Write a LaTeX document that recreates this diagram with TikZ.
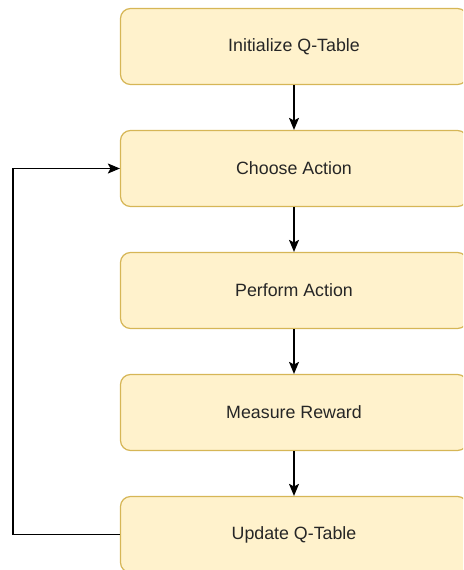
\documentclass[tikz,border=0pt]{standalone}
\usepackage{fontspec}
\setmainfont{Liberation Sans}
\usetikzlibrary{arrows.meta}
\definecolor{stepfill}{HTML}{FFF2CC}
\definecolor{stepline}{HTML}{D6B656}
\begin{document}
\begin{tikzpicture}[x=1pt,y=-1pt,
  stepbox/.style={draw=stepline, fill=stepfill, line width=1.2pt,
    rounded corners=10pt, minimum width=347pt, minimum height=76pt,
    inner sep=0pt, text=black!85, font=\fontsize{17.8}{20}\selectfont},
  flow/.style={line width=1.1pt, -{Triangle[length=12pt,width=10pt,inset=2.5pt]}}]
  \useasboundingbox (0,0) rectangle (463,570);
  \begin{scope}
    \clip (0,0) rectangle (463,570);
    \node[stepbox] (init)    at (294,46.5)  {Initialize Q-Table};
    \node[stepbox] (choose)  at (294,168.5) {Choose Action};
    \node[stepbox] (perform) at (294,290.5) {Perform Action};
    \node[stepbox] (measure) at (294,412.5) {Measure Reward};
    \node[stepbox] (update)  at (294,534.5) {Update Q-Table};
  \end{scope}
  \draw[flow] (init) -- (choose);
  \draw[flow] (choose) -- (perform);
  \draw[flow] (perform) -- (measure);
  \draw[flow] (measure) -- (update);
  \draw[flow] (update.west) -- (13,534.5) |- (choose.west);
\end{tikzpicture}
\end{document}
